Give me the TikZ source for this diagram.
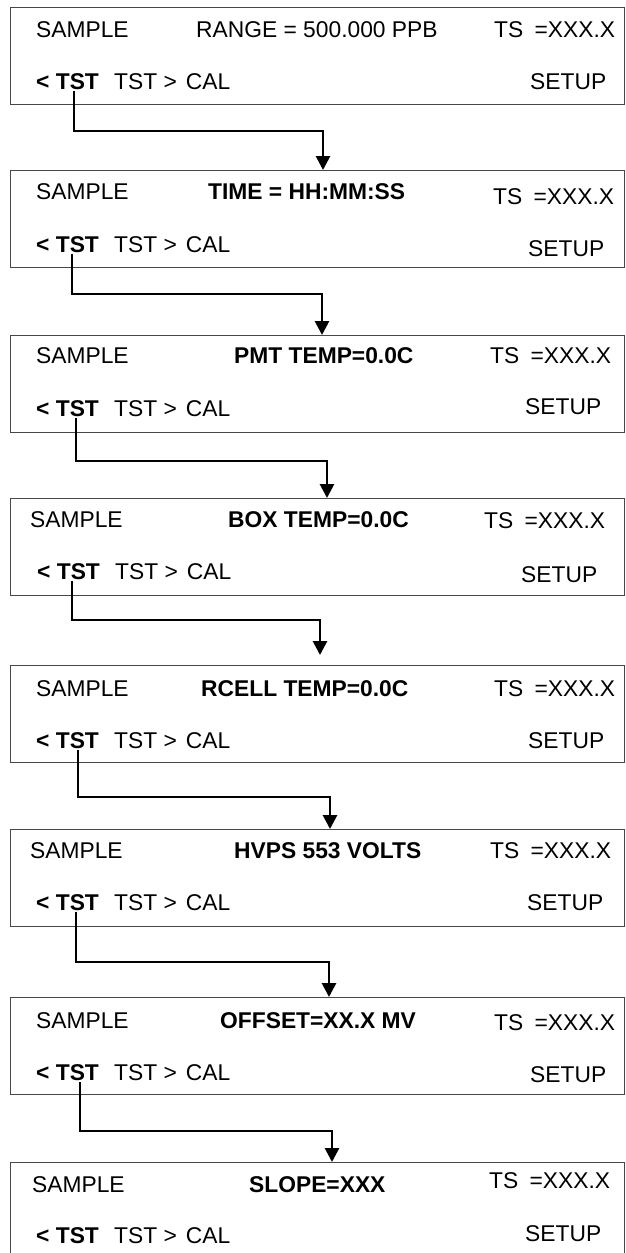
\documentclass[tikz,border=0pt]{standalone}
\usepackage{fontspec}
\setmainfont{Liberation Sans}
\usetikzlibrary{arrows.meta}
\begin{document}
\begin{tikzpicture}[x=1pt,y=-1pt,
  scr/.style={draw=black!72, line width=1.4pt, rectangle, anchor=north west,
    minimum width=614pt, minimum height=97pt, inner sep=0pt},
  txt/.style={anchor=west, inner sep=0pt, font=\fontsize{22.8}{22.8}\selectfont},
  btxt/.style={anchor=west, inner sep=0pt, font=\fontsize{22.8}{22.8}\selectfont\bfseries},
  arr/.style={line width=2.8pt, -{Triangle[width=14pt,length=14pt]}}
]
\useasboundingbox (0,0) rectangle (625,1253);
\clip (0,0) rectangle (625,1253);
\newcommand{\tsval}{TS\hspace{5pt} =XXX.X}
\newcommand{\rowtwo}{TST >\hspace{9pt}CAL}

% screens
\node[scr] (box1) at (10,7) {};
\node[scr] (box2) at (10,170) {};
\node[scr] (box3) at (10,335) {};
\node[scr] (box4) at (10,498) {};
\node[scr] (box5) at (10,665) {};
\node[scr] (box6) at (10,829) {};
\node[scr] (box7) at (10,997) {};
\node[scr] (box8) at (10,1162) {};

% screen 1
\node[txt] (s1) at (36,30) {SAMPLE};
\node[txt] (c1) at (196,30) {RANGE = 500.000 PPB};
\node[txt] (t1) at (494,30) {\tsval};
\node[btxt] (l1) at (36,82) {< TST};
\node[txt] (r1) at (114,82) {\rowtwo};
\node[txt] (u1) at (530,82) {SETUP};

% screen 2
\node[txt] (s2) at (36,192) {SAMPLE};
\node[btxt] (c2) at (208,192) {TIME = HH:MM:SS};
\node[txt] (t2) at (493,197) {\tsval};
\node[btxt] (l2) at (36,245) {< TST};
\node[txt] (r2) at (114,245) {\rowtwo};
\node[txt] (u2) at (528,249) {SETUP};

% screen 3
\node[txt] (s3) at (36,356) {SAMPLE};
\node[btxt] (c3) at (234,356) {PMT TEMP=0.0C};
\node[txt] (t3) at (490,356) {\tsval};
\node[btxt] (l3) at (36,409) {< TST};
\node[txt] (r3) at (114,409) {\rowtwo};
\node[txt] (u3) at (525,407) {SETUP};

% screen 4
\node[txt] (s4) at (30,520) {SAMPLE};
\node[btxt] (c4) at (228,520) {BOX TEMP=0.0C};
\node[txt] (t4) at (484,521) {\tsval};
\node[btxt] (l4) at (37,572) {< TST};
\node[txt] (r4) at (115,572) {\rowtwo};
\node[txt] (u4) at (521,575) {SETUP};

% screen 5
\node[txt] (s5) at (36,689) {SAMPLE};
\node[btxt] (c5) at (201,689) {RCELL TEMP=0.0C};
\node[txt] (t5) at (494,689) {\tsval};
\node[btxt] (l5) at (36,741) {< TST};
\node[txt] (r5) at (114,741) {\rowtwo};
\node[txt] (u5) at (528,741) {SETUP};

% screen 6
\node[txt] (s6) at (30,851) {SAMPLE};
\node[btxt] (c6) at (234,851) {HVPS 553 VOLTS};
\node[txt] (t6) at (490,851) {\tsval};
\node[btxt] (l6) at (36,903) {< TST};
\node[txt] (r6) at (114,903) {\rowtwo};
\node[txt] (u6) at (527,903) {SETUP};

% screen 7
\node[txt] (s7) at (36,1021) {SAMPLE};
\node[btxt] (c7) at (220,1021) {OFFSET=XX.X MV};
\node[txt] (t7) at (494,1023) {\tsval};
\node[btxt] (l7) at (36,1073) {< TST};
\node[txt] (r7) at (114,1073) {\rowtwo};
\node[txt] (u7) at (530,1075) {SETUP};

% screen 8
\node[txt] (s8) at (32,1185) {SAMPLE};
\node[btxt] (c8) at (249,1185) {SLOPE=XXX};
\node[txt] (t8) at (489,1181) {\tsval};
\node[btxt] (l8) at (36,1236) {< TST};
\node[txt] (r8) at (114,1236) {\rowtwo};
\node[txt] (u8) at (525,1234) {SETUP};

% connector points
\coordinate (a1) at (74,91);   \coordinate (m1) at (0,131);  \coordinate (e1) at (323,170);
\coordinate (a2) at (72,254);  \coordinate (m2) at (0,294);  \coordinate (e2) at (322,335);
\coordinate (a3) at (76,418);  \coordinate (m3) at (0,461);  \coordinate (e3) at (327,498);
\coordinate (a4) at (72,581);  \coordinate (m4) at (0,620);  \coordinate (e4) at (320,655);
\coordinate (a5) at (78,750);  \coordinate (m5) at (0,797);  \coordinate (e5) at (330,829);
\coordinate (a6) at (76,912);  \coordinate (m6) at (0,962);  \coordinate (e6) at (329,997);
\coordinate (a7) at (80,1082); \coordinate (m7) at (0,1131); \coordinate (e7) at (332,1162);

\draw[arr] (a1) |- (m1 -| e1) -- (e1);
\draw[arr] (a2) |- (m2 -| e2) -- (e2);
\draw[arr] (a3) |- (m3 -| e3) -- (e3);
\draw[arr] (a4) |- (m4 -| e4) -- (e4);
\draw[arr] (a5) |- (m5 -| e5) -- (e5);
\draw[arr] (a6) |- (m6 -| e6) -- (e6);
\draw[arr] (a7) |- (m7 -| e7) -- (e7);
\end{tikzpicture}
\end{document}
